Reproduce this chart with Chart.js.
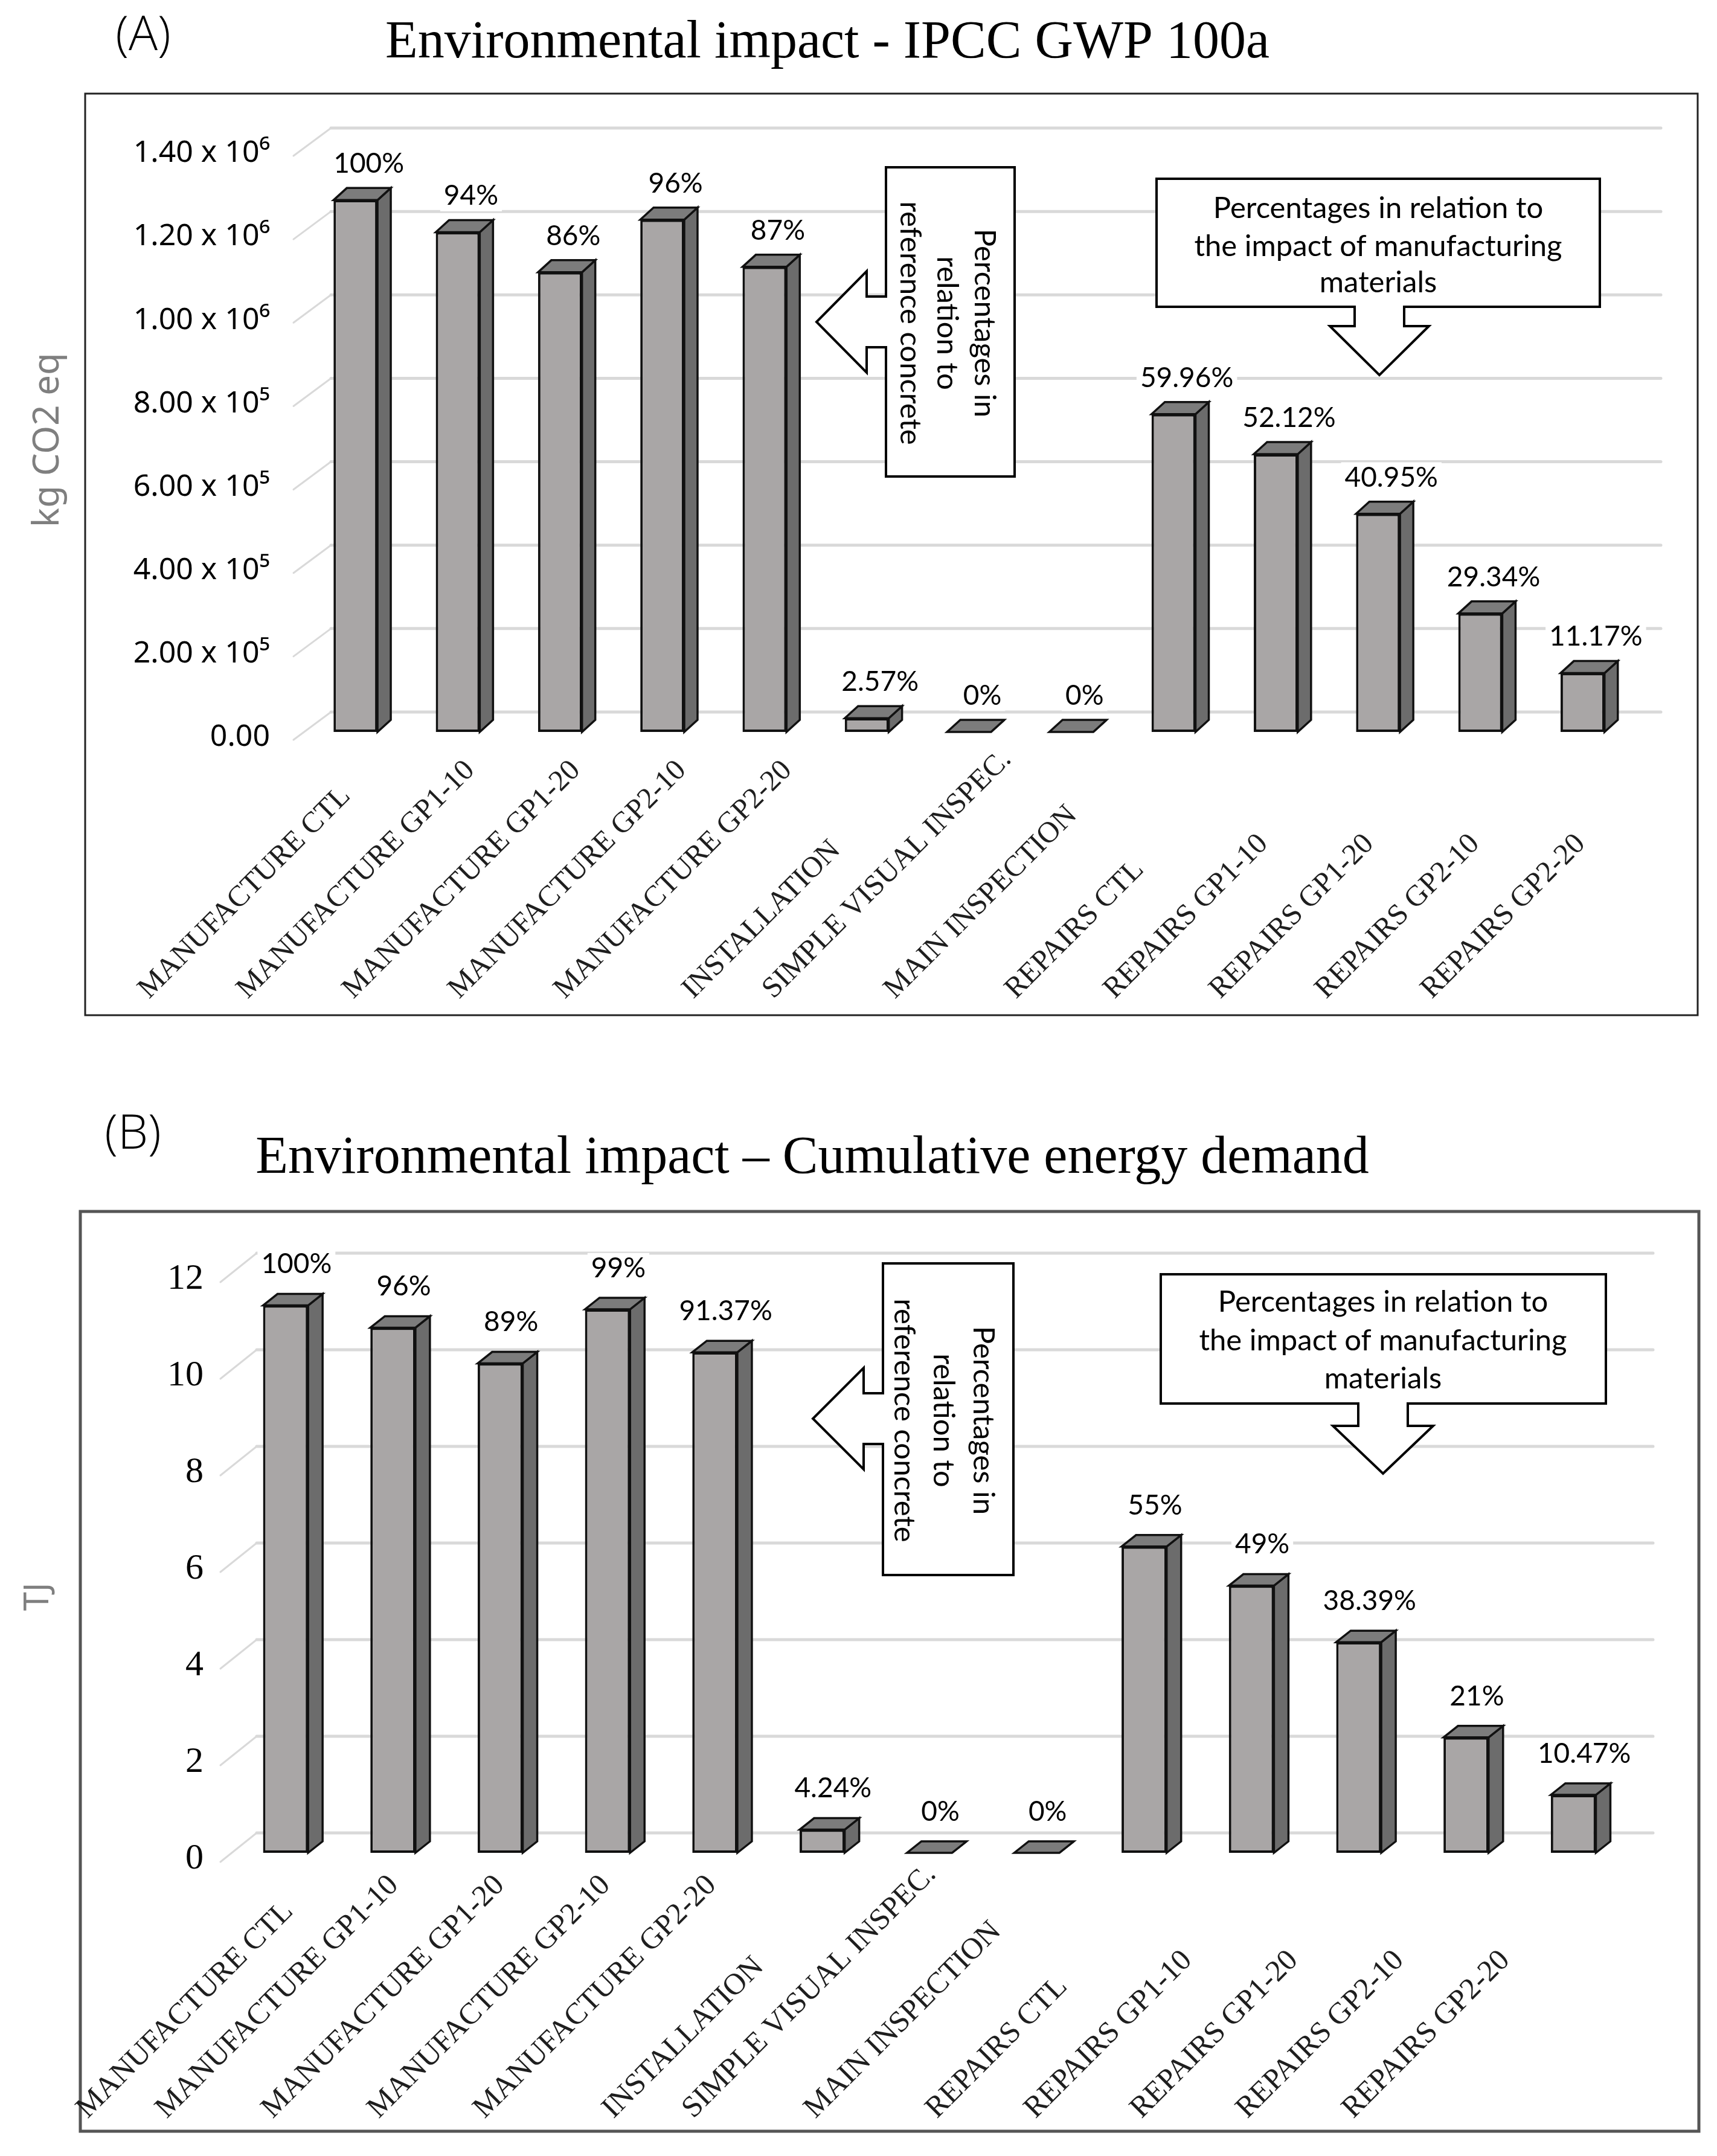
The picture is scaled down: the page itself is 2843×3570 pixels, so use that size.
<!DOCTYPE html>
<html>
<head>
<meta charset="utf-8">
<script src="https://cdn.jsdelivr.net/npm/chart.js@4.4.1/dist/chart.umd.min.js"></script>
<style>
html,body{margin:0;padding:0;background:#fff;}
#wrap{position:relative;width:2843px;height:3570px;background:#fff;}
canvas{position:absolute;left:0;}
#cA{top:0;}
#cB{top:1780px;}
</style>
</head>
<body>
<div id="wrap">
<canvas id="cA" width="2843" height="1780"></canvas>
<canvas id="cB" width="2843" height="1790"></canvas>
</div>
<script>
// ---------- DATA ----------
const categories = [
  'MANUFACTURE CTL', 'MANUFACTURE GP1-10', 'MANUFACTURE GP1-20', 'MANUFACTURE GP2-10',
  'MANUFACTURE GP2-20', 'INSTALLATION', 'SIMPLE VISUAL INSPEC.', 'MAIN INSPECTION',
  'REPAIRS CTL', 'REPAIRS GP1-10', 'REPAIRS GP1-20', 'REPAIRS GP2-10', 'REPAIRS GP2-20'
];
// (A) IPCC GWP 100a, kg CO2 eq
const gwpValues = [1275000, 1198000, 1102000, 1228000, 1115000, 33000, 0, 0, 762000, 666000, 523000, 284000, 141000];
const gwpPercentLabels = ['100%', '94%', '86%', '96%', '87%', '2.57%', '0%', '0%', '59.96%', '52.12%', '40.95%', '29.34%', '11.17%'];
const gwpTickValues = [0, 200000, 400000, 600000, 800000, 1000000, 1200000, 1400000];
const gwpTickLabels = ['0.00', '2.00 x 10\u2075', '4.00 x 10\u2075', '6.00 x 10\u2075', '8.00 x 10\u2075', '1.00 x 10\u2076', '1.20 x 10\u2076', '1.40 x 10\u2076'];
// (B) Cumulative energy demand, TJ
const cedValues = [11.33, 10.87, 10.13, 11.25, 10.36, 0.48, 0, 0, 6.34, 5.53, 4.36, 2.39, 1.20];
const cedPercentLabels = ['100%', '96%', '89%', '99%', '91.37%', '4.24%', '0%', '0%', '55%', '49%', '38.39%', '21%', '10.47%'];
const cedTickValues = [0, 2, 4, 6, 8, 10, 12];
const cedTickLabels = ['0', '2', '4', '6', '8', '10', '12'];

// ---------- DRAW HELPERS ----------
function poly(ctx, pts, fill, stroke, lw) {
  ctx.beginPath();
  pts.forEach((p, i) => i ? ctx.lineTo(p[0], p[1]) : ctx.moveTo(p[0], p[1]));
  ctx.closePath();
  if (fill) { ctx.fillStyle = fill; ctx.fill(); }
  if (stroke) { ctx.lineWidth = lw; ctx.strokeStyle = stroke; ctx.lineJoin = 'miter'; ctx.stroke(); }
}

function decoPlugin(cfg) {
  return {
    id: 'deco' + cfg.key,
    beforeDraw(chart) {
      const ctx = chart.ctx;
      ctx.save();
      ctx.fillStyle = '#fff';
      ctx.fillRect(0, 0, chart.width, chart.height);
      ctx.lineWidth = cfg.frame.lw;
      ctx.strokeStyle = cfg.frame.color;
      ctx.strokeRect(cfg.frame.l, cfg.frame.t, cfg.frame.r - cfg.frame.l, cfg.frame.b - cfg.frame.t);
      ctx.fillStyle = '#000';
      ctx.textAlign = 'center';
      ctx.textBaseline = 'middle';
      ctx.font = '300 80px "Open Sans", "Noto Sans", sans-serif';
      ctx.fillText(cfg.letter.text, cfg.letter.x, cfg.letter.y);
      ctx.textBaseline = 'alphabetic';
      ctx.font = '88px "Liberation Serif", "Times New Roman", serif';
      ctx.fillText(cfg.title.text, cfg.title.x, cfg.title.y);
      ctx.restore();
    },
    beforeDatasetsDraw(chart) {
      const ctx = chart.ctx, ys = chart.scales.y, a = chart.chartArea, g = cfg.grid;
      ctx.save();
      ctx.strokeStyle = '#d9d9d9';
      ctx.lineCap = 'round';
      ys.ticks.forEach(t => {
        const py = ys.getPixelForValue(t.value);
        ctx.lineWidth = 3;
        ctx.beginPath();
        ctx.moveTo(a.left + g.fx, py + g.fy);
        ctx.lineTo(a.left + g.bx, py + g.by);
        ctx.stroke();
        ctx.lineWidth = 5;
        ctx.beginPath();
        ctx.moveTo(a.left + g.bx, py + g.by);
        ctx.lineTo(a.right + g.rx, py + g.by);
        ctx.stroke();
      });
      const meta = chart.getDatasetMeta(0);
      const dx = cfg.depth.dx, dy = cfg.depth.dy;
      meta.data.forEach(el => {
        const p = el.getProps(['x', 'y', 'base', 'width'], true);
        const l = p.x - p.width / 2, r = p.x + p.width / 2, top = p.y, bot = p.base;
        poly(ctx, [[r, top], [r + dx, top - dy], [r + dx, bot - dy], [r, bot]], '#6c6c6c', '#111', 3.5);
        poly(ctx, [[l, top], [l + dx, top - dy], [r + dx, top - dy], [r, top]], '#7c7c7c', '#111', 3.5);
      });
      ctx.restore();
    },
    afterDatasetsDraw(chart) {
      const ctx = chart.ctx;
      ctx.save();
      // category labels: rotated 45 degrees, bottom-aligned, positioned from the library's tick pixels
      const xs = chart.scales.x;
      const left = chart.chartArea.left;
      const X = cfg.xlab;
      ctx.font = X.size + 'px "Liberation Serif", "Times New Roman", serif';
      ctx.fillStyle = '#1e1e1e';
      ctx.textAlign = 'left';
      ctx.textBaseline = 'alphabetic';
      chart.data.labels.forEach((lab, i) => {
        const tx = xs.getPixelForTick(i);
        const w = ctx.measureText(lab).width;
        const sx = Math.max(X.minX, tx + X.a + X.s * (tx - left) - X.k * w);
        ctx.save();
        ctx.translate(sx, X.y0);
        ctx.rotate(-Math.PI / 4);
        ctx.fillText(lab, 0, 0);
        ctx.restore();
      });
      // percentage labels
      const meta = chart.getDatasetMeta(0);
      ctx.font = cfg.pct.size + 'px Lato, "Noto Sans", sans-serif';
      ctx.textAlign = 'center';
      ctx.textBaseline = 'middle';
      meta.data.forEach((el, i) => {
        const p = el.getProps(['x', 'y'], true);
        const txt = cfg.pct.labels[i];
        const x = p.x + cfg.pct.dx, y = p.y - cfg.pct.dy;
        const w = ctx.measureText(txt).width + 12;
        ctx.fillStyle = '#fff';
        ctx.fillRect(x - w / 2, y - cfg.pct.size * 0.55, w, cfg.pct.size * 1.1);
        ctx.fillStyle = '#000';
        ctx.fillText(txt, x, y);
      });
      // callout with left arrow (vertical text)
      const L = cfg.left;
      poly(ctx, [
        [L.l, L.t], [L.r, L.t], [L.r, L.b], [L.l, L.b],
        [L.l, L.cy + L.shaft], [L.sx, L.cy + L.shaft], [L.sx, L.cy + L.head],
        [L.tip, L.cy], [L.sx, L.cy - L.head], [L.sx, L.cy - L.shaft], [L.l, L.cy - L.shaft]
      ], '#fff', '#000', 4);
      ctx.fillStyle = '#000';
      ctx.font = '49px Lato, "Noto Sans", sans-serif';
      L.lines.forEach(ln => {
        ctx.save();
        ctx.translate(ln.x, L.ty);
        ctx.rotate(Math.PI / 2);
        ctx.fillText(ln.text, 0, 0);
        ctx.restore();
      });
      // callout with down arrow
      const R = cfg.right;
      poly(ctx, [
        [R.l, R.t], [R.r, R.t], [R.r, R.b],
        [R.cx + R.shaft, R.b], [R.cx + R.shaft, R.sy], [R.cx + R.head, R.sy],
        [R.cx, R.tip], [R.cx - R.head, R.sy], [R.cx - R.shaft, R.sy], [R.cx - R.shaft, R.b],
        [R.l, R.b]
      ], '#fff', '#000', 4);
      ctx.fillStyle = '#000';
      R.lines.forEach(ln => ctx.fillText(ln.text, R.tx, ln.y));
      ctx.restore();
    }
  };
}

function makeChart(canvasId, o) {
  return new Chart(document.getElementById(canvasId), {
    type: 'bar',
    data: {
      labels: categories,
      datasets: [{
        data: o.values,
        backgroundColor: '#a9a6a6',
        borderColor: '#111',
        borderWidth: 4,
        borderSkipped: false,
        barPercentage: o.barPct,
        categoryPercentage: 1
      }]
    },
    options: {
      responsive: false,
      devicePixelRatio: 1,
      animation: false,
      layout: { padding: { left: 0, right: o.padRight, top: o.padTop, bottom: o.padBottom } },
      plugins: { legend: { display: false }, tooltip: { enabled: false } },
      scales: {
        x: {
          grid: { display: false },
          border: { display: false },
          ticks: { display: false, autoSkip: false },
          afterFit: s => { s.height = o.xHeight; }
        },
        y: {
          min: 0, max: o.max,
          grid: { display: false, drawTicks: false },
          border: { display: false },
          afterBuildTicks: s => { s.ticks = o.tickValues.map(v => ({ value: v })); },
          ticks: {
            padding: o.yPad, color: '#000', labelOffset: o.yLabelOffset,
            font: o.yFont,
            callback: (v, i) => o.tickLabels[i]
          },
          title: {
            display: true, text: o.yTitle, color: '#7f7f7f',
            font: { family: '"Noto Sans", "Open Sans", sans-serif', size: o.yTitleSize },
            padding: { top: o.yTitlePad, bottom: 0 }
          },
          afterFit: s => { s.width = o.yWidth; }
        }
      }
    },
    plugins: [decoPlugin(o.deco)]
  });
}

// ---------- CHART A ----------
makeChart('cA', {
  values: gwpValues, max: 1400000, tickValues: gwpTickValues, tickLabels: gwpTickLabels,
  barPct: 0.43, padRight: 138, padTop: 245, padBottom: 28, xHeight: 540, yWidth: 504,
  yPad: 57, yLabelOffset: 9,
  yFont: { family: '"Noto Sans", "Open Sans", sans-serif', size: 50 },
  yTitle: 'kg CO2 eq', yTitleSize: 60, yTitlePad: 44,
  deco: {
    key: 'A',
    frame: { l: 141, t: 155, r: 2811, b: 1681, lw: 3, color: '#222' },
    letter: { text: '(A)', x: 237, y: 60 },
    title: { text: 'Environmental impact - IPCC GWP 100a', x: 1370, y: 95 },
    grid: { fx: -18, fy: 13, bx: 44, by: -33, rx: 45 },
    depth: { dx: 22, dy: 20 },
    xlab: { size: 49, a: -250, s: 0.0344, k: 0.2, y0: 1655, minX: 150 },
    pct: { labels: gwpPercentLabels, size: 46, dx: 22, dy: 60 },
    left: { l: 1467, t: 277, r: 1680, b: 789, cy: 533, shaft: 42, head: 84, sx: 1435, tip: 1352, ty: 535,
      lines: [{ text: 'Percentages in', x: 1630 }, { text: 'relation to', x: 1568 }, { text: 'reference concrete', x: 1507 }] },
    right: { l: 1915, t: 296, r: 2649, b: 508, cx: 2284, shaft: 41, head: 82, sy: 540, tip: 621, tx: 2282,
      lines: [{ text: 'Percentages in relation to', y: 345 }, { text: 'the impact of manufacturing', y: 408 }, { text: 'materials', y: 468 }] }
  }
});

// ---------- CHART B ----------
makeChart('cB', {
  values: cedValues, max: 12, tickValues: cedTickValues, tickLabels: cedTickLabels,
  barPct: 0.42, padRight: 149, padTop: 328, padBottom: 32, xHeight: 470, yWidth: 384,
  yPad: 47, yLabelOffset: 10,
  yFont: { family: '"Liberation Serif", "Times New Roman", serif', size: 60 },
  yTitle: 'TJ\u2003\u2003', yTitleSize: 56, yTitlePad: 30,
  deco: {
    key: 'B',
    frame: { l: 133, t: 226, r: 2813, b: 1749, lw: 5, color: '#555' },
    letter: { text: '(B)', x: 220, y: 99 },
    title: { text: 'Environmental impact \u2013 Cumulative energy demand', x: 1345, y: 162 },
    grid: { fx: -19, fy: 15, bx: 41, by: -33, rx: 43 },
    depth: { dx: 24, dy: 19 },
    xlab: { size: 50, a: -262, s: -0.0129, k: 0.2, y0: 1729, minX: 145 },
    pct: { labels: cedPercentLabels, size: 46, dx: 18, dy: 68 },
    left: { l: 1462, t: 312, r: 1678, b: 828, cy: 569, shaft: 42, head: 84, sx: 1430, tip: 1346, ty: 572,
      lines: [{ text: 'Percentages in', x: 1628 }, { text: 'relation to', x: 1562 }, { text: 'reference concrete', x: 1497 }] },
    right: { l: 1922, t: 330, r: 2659, b: 544, cx: 2290, shaft: 41, head: 83, sy: 581, tip: 660, tx: 2290,
      lines: [{ text: 'Percentages in relation to', y: 376 }, { text: 'the impact of manufacturing', y: 440 }, { text: 'materials', y: 503 }] }
  }
});
</script>
</body>
</html>
